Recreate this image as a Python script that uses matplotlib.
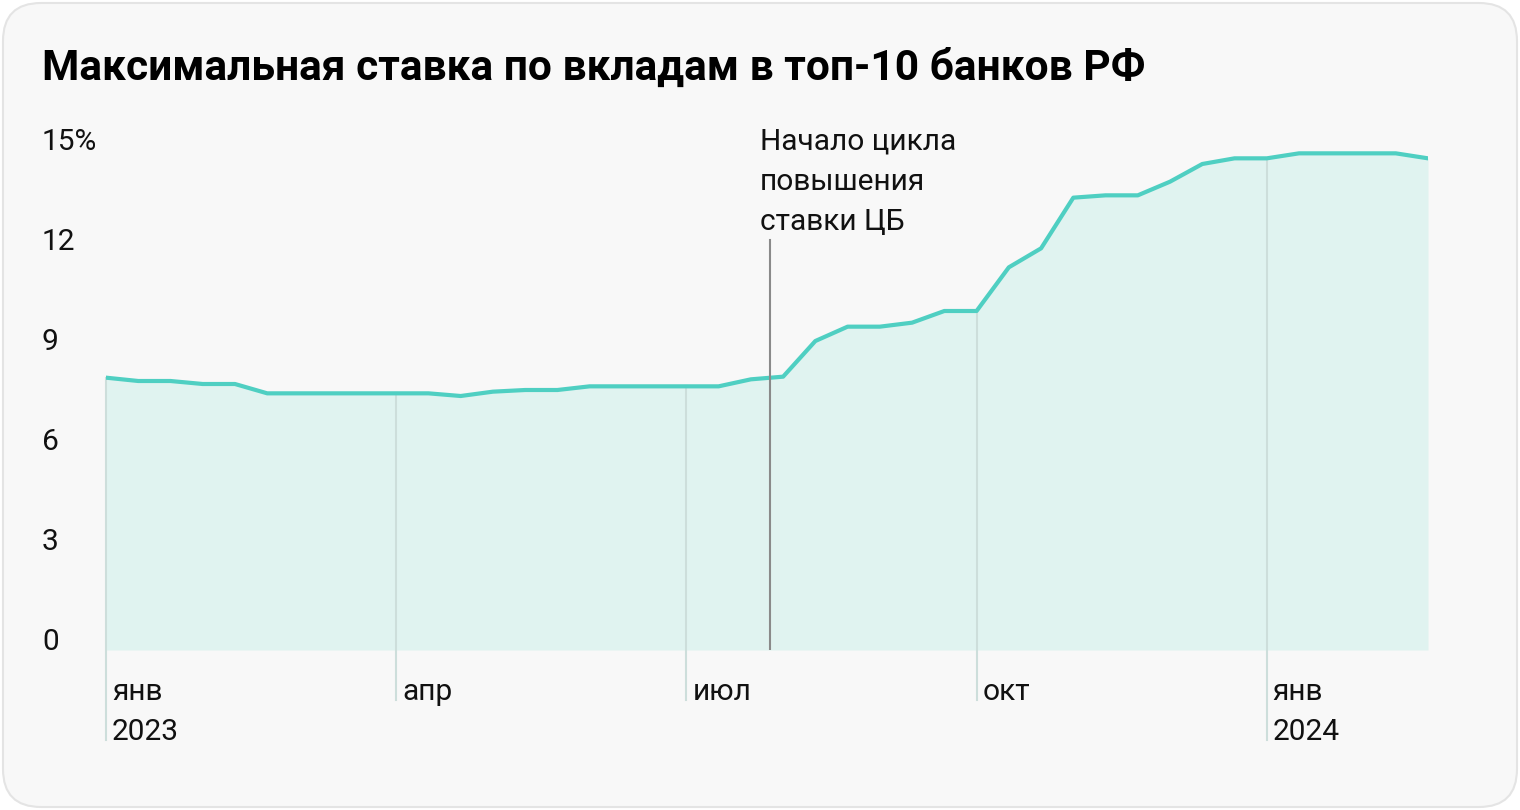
import matplotlib.pyplot as plt
from matplotlib.patches import FancyBboxPatch
import numpy as np

# max deposit rate, top-10 banks, by dekad (1st, 11th, 21st of each month), jan 2023 - feb 2024
rates = [8.17, 8.07, 8.07, 7.98, 7.98, 7.70, 7.70, 7.70, 7.70, 7.70,
         7.70, 7.62, 7.75, 7.80, 7.80, 7.91, 7.91, 7.91, 7.91, 7.91,
         8.12, 8.20, 9.27, 9.70, 9.70, 9.82, 10.17, 10.17, 11.48, 12.05,
         13.57, 13.64, 13.64, 14.05, 14.58, 14.75, 14.75, 14.90, 14.90, 14.90,
         14.90, 14.75]
quarter_idx = [0, 9, 18, 27, 36]
quarter_labels = ['янв\n2023', 'апр', 'июл', 'окт', 'янв\n2024']
y_ticks = [0, 3, 6, 9, 12, 15]
y_labels = ['0', '3', '6', '9', '12', '15%']
title = 'Максимальная ставка по вкладам в топ-10 банков РФ'
note = ['Начало цикла', 'повышения', 'ставки ЦБ']
note_idx = 20.6

W, H = 1520, 810
plt.rcParams['font.family'] = ['Roboto', 'DejaVu Sans']
fig = plt.figure(figsize=(W / 100, H / 100), dpi=100, facecolor='white')

card = FancyBboxPatch((3 / W, 3 / H), (W - 6) / W, (H - 6) / H,
                      boxstyle='round,pad=0,rounding_size=0.025',
                      transform=fig.transFigure, facecolor='#f8f8f8',
                      edgecolor='#e4e4e4', linewidth=1.5, mutation_aspect=W / H,
                      zorder=-5)
fig.patches.append(card)

x0, x1, y0, y1 = 106, 1428, 650, 150
ax = fig.add_axes([x0 / W, (H - y0) / H, (x1 - x0) / W, (y0 - y1) / H])
ax.set_zorder(2)
ax.set_xlim(0, len(rates) - 1)
ax.set_ylim(0, 15)
ax.axis('off')

xs = np.arange(len(rates))
px_x = (x1 - x0) / (len(rates) - 1)
px_y = (y0 - y1) / 15

ax.fill_between(xs, 0, rates, color='#e0f3f0', lw=0, zorder=1)
ax.plot(xs, rates, color='#4fcfc2', lw=3, solid_joinstyle='round', zorder=3)

for i, lab in zip(quarter_idx, quarter_labels):
    two = '\n' in lab
    bottom = -(740 - y0) / px_y if two else -(700 - y0) / px_y
    ax.plot([i, i], [bottom, rates[i]], color='#cddedb', lw=1.5, zorder=2, clip_on=False)
    lines = lab.split('\n')
    for k, t in enumerate(lines):
        ax.text(i + 6 / px_x, -(700 + 40 * k - y0) / px_y, t, fontsize=21.5,
                color='#111111', va='baseline', ha='left', clip_on=False)

for v, lab in zip(y_ticks, y_labels):
    ax.text(-(x0 - 42) / px_x, v, lab, fontsize=21.5, color='#111111',
            va='baseline', ha='left', clip_on=False)

ax.plot([note_idx, note_idx], [0, (y0 - 240) / px_y], color='#8a8a8a', lw=1.5, zorder=4)
for k, t in enumerate(note):
    ax.text(note_idx - 10 / px_x, (y0 - 150 - 40 * k) / px_y, t, fontsize=21.5,
            color='#111111', va='baseline', ha='left', clip_on=False)

fig.text(42 / W, (H - 80) / H, title, fontsize=30.6, fontweight='bold',
         color='#000000', va='baseline', ha='left')

fig.savefig('out.png', dpi=100)
